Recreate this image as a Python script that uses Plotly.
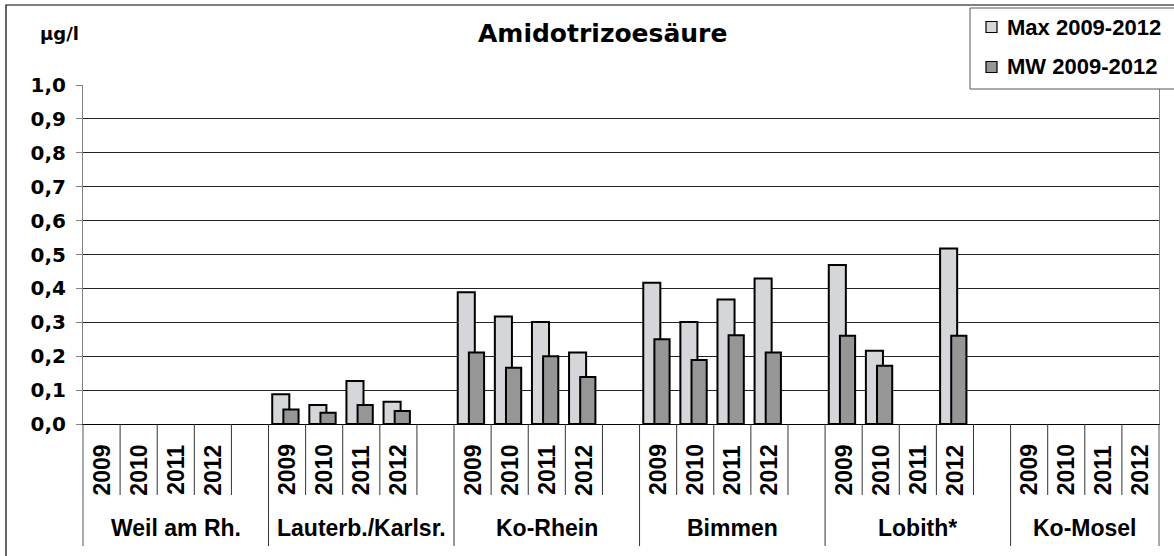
import plotly.graph_objects as go

# ---- data ----
stations = ["Weil am Rh.", "Lauterb./Karlsr.", "Ko-Rhein", "Bimmen", "Lobith*", "Ko-Mosel"]
years = ["2009", "2010", "2011", "2012"]
series_names = ["Max 2009-2012", "MW 2009-2012"]

max_weil = [None, None, None, None]
max_lauterb = [0.088, 0.056, 0.127, 0.066]
max_korhein = [0.389, 0.317, 0.301, 0.211]
max_bimmen = [0.417, 0.301, 0.367, 0.429]
max_lobith = [0.469, 0.216, None, 0.518]
max_komosel = [None, None, None, None]

mw_weil = [None, None, None, None]
mw_lauterb = [0.043, 0.033, 0.056, 0.038]
mw_korhein = [0.211, 0.166, 0.200, 0.139]
mw_bimmen = [0.250, 0.189, 0.262, 0.211]
mw_lobith = [0.260, 0.172, None, 0.260]
mw_komosel = [None, None, None, None]

y_ticks = [0.0, 0.1, 0.2, 0.3, 0.4, 0.5, 0.6, 0.7, 0.8, 0.9, 1.0]

max_series = [max_weil, max_lauterb, max_korhein, max_bimmen, max_lobith, max_komosel]
mw_series = [mw_weil, mw_lauterb, mw_korhein, mw_bimmen, mw_lobith, mw_komosel]

# ---- styling / layout helpers ----
COL_MAX = "#D5D6DA"
COL_MW = "#969696"
SLOTS = 5  # 4 years + 1 gap per station
W, H = 1174, 556
ML, MR, MT, MB = 83, 15, 85, 132
PW, PH = W - ML - MR, H - MT - MB


def px_to_paper_x(px):
    return (px - ML) / PW


def px_to_paper_y(py):
    return (H - MB - py) / PH


xs, ymax, ymw = [], [], []
for si, st in enumerate(stations):
    for yi, yr in enumerate(years):
        xs.append(si * SLOTS + yi)
        ymax.append(max_series[si][yi])
        ymw.append(mw_series[si][yi])

n_slots = SLOTS * (len(stations) - 1) + len(years)

bold = "bold"
fig = go.Figure()
fig.add_trace(go.Bar(
    x=xs, y=ymax, name=series_names[0], showlegend=False,
    width=0.46, offset=-0.40,
    marker=dict(color=COL_MAX, line=dict(color="#000000", width=2)),
))
fig.add_trace(go.Bar(
    x=xs, y=ymw, name=series_names[1], showlegend=False,
    width=0.41, offset=-0.10,
    marker=dict(color=COL_MW, line=dict(color="#000000", width=2)),
))

shapes = []
y_short = px_to_paper_y(495)
y_long = px_to_paper_y(546)
# divider lines under the axis
for k in range(1, n_slots):
    pos = k - 0.5
    is_long = (k % SLOTS == 0)
    shapes.append(dict(type="line", xref="x", yref="paper", x0=pos, x1=pos,
                       y0=0, y1=y_long if is_long else y_short,
                       line=dict(color="#333333", width=1)))
for xp in (0, 1):
    shapes.append(dict(type="line", xref="paper", yref="paper", x0=xp, x1=xp,
                       y0=0, y1=y_long, line=dict(color="#555555", width=1)))
# outer chart frame
shapes.append(dict(type="rect", xref="paper", yref="paper",
                   x0=px_to_paper_x(6), x1=px_to_paper_x(1185),
                   y0=px_to_paper_y(562), y1=px_to_paper_y(5),
                   line=dict(color="#000000", width=1.2), layer="below"))

# legend box (drawn by hand to match the original placement)
shapes.append(dict(type="rect", xref="paper", yref="paper",
                   x0=px_to_paper_x(970), x1=px_to_paper_x(1190),
                   y0=px_to_paper_y(89), y1=px_to_paper_y(8),
                   fillcolor="white", line=dict(color="#555555", width=1), layer="above"))

annotations = []
legend_rows = [27, 67]
for name, col, row in zip(series_names, [COL_MAX, COL_MW], legend_rows):
    shapes.append(dict(type="rect", xref="paper", yref="paper",
                       x0=px_to_paper_x(986), x1=px_to_paper_x(997),
                       y0=px_to_paper_y(row + 5.5), y1=px_to_paper_y(row - 5.5),
                       fillcolor=col, line=dict(color="#000000", width=1.2), layer="above"))
    annotations.append(dict(
        x=px_to_paper_x(1005), xref="paper", y=px_to_paper_y(row), yref="paper",
        text=name, showarrow=False,
        font=dict(family="Liberation Sans", size=22, color="#000000", weight=bold),
        xanchor="left", yanchor="middle"))

for si, st in enumerate(stations):
    for yi, yr in enumerate(years):
        annotations.append(dict(
            x=si * SLOTS + yi, xref="x", y=px_to_paper_y(470), yref="paper",
            text=yr, textangle=-90, showarrow=False,
            font=dict(family="Liberation Sans", size=23, color="#000000", weight=bold),
            xanchor="center", yanchor="middle"))
    nyr = SLOTS if si < len(stations) - 1 else len(years)
    center = si * SLOTS + (nyr - 1) / 2
    annotations.append(dict(
        x=center, xref="x", y=px_to_paper_y(528), yref="paper",
        text=st, showarrow=False,
        font=dict(family="Liberation Sans", size=23, color="#000000", weight=bold),
        xanchor="center", yanchor="middle"))

annotations.append(dict(
    x=px_to_paper_x(602), xref="paper", y=px_to_paper_y(34), yref="paper",
    text="Amidotrizoesäure", showarrow=False,
    font=dict(family="DejaVu Sans", size=25, color="#000000", weight=bold),
    xanchor="center", yanchor="middle"))
annotations.append(dict(
    x=px_to_paper_x(59), xref="paper", y=px_to_paper_y(33), yref="paper",
    text="µg/l", showarrow=False,
    font=dict(family="DejaVu Sans", size=18, color="#000000", weight=bold),
    xanchor="center", yanchor="middle"))

fig.update_layout(
    width=W, height=H, autosize=False,
    margin=dict(l=ML, r=MR, t=MT, b=MB),
    paper_bgcolor="white", plot_bgcolor="white",
    barmode="overlay",
    separators=",.",
    showlegend=False,
    xaxis=dict(range=[-0.5, n_slots - 0.5], showticklabels=False, ticks="",
               showgrid=False, zeroline=False, showline=True,
               linecolor="#000000", linewidth=1, fixedrange=True),
    yaxis=dict(range=[0, 1.0], tickvals=y_ticks, tickformat=".1f",
               showgrid=True, gridcolor="#222222", gridwidth=1,
               zeroline=False, showline=True, linecolor="#808080", linewidth=1,
               mirror=True, ticks="outside", ticklen=6, tickcolor="#808080",
               ticklabelstandoff=6,
               tickfont=dict(family="DejaVu Sans", size=20, color="#000000", weight=bold),
               fixedrange=True),
    shapes=shapes,
    annotations=annotations,
)

fig.write_html("out.html", config={"displayModeBar": False},
               post_script="document.body.style.margin='0';")
